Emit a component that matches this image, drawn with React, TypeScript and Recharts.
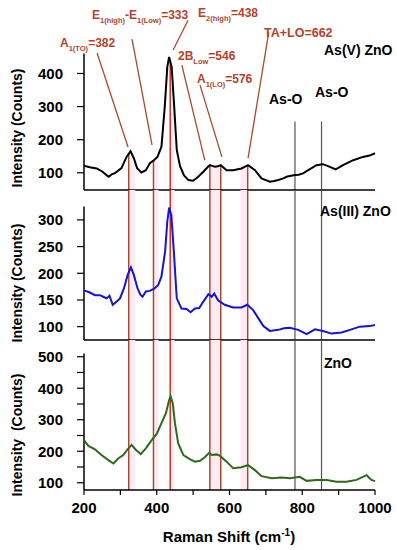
import React from 'react';
import { LineChart, Line, XAxis, YAxis, ReferenceLine, ReferenceArea } from 'recharts';

// Raman shift (cm-1) / intensity (counts)
const asVShift = [200, 216, 235, 250, 262, 268, 276, 285, 303, 317, 328, 337, 346, 358, 370, 381, 390, 402, 413, 422, 429, 434, 441, 448, 455, 464, 475, 487, 500, 514, 528, 541, 546, 553, 560, 568, 576, 592, 610, 633, 651, 670, 688, 700, 711, 723, 734, 748, 757, 766, 780, 790, 802, 820, 839, 857, 876, 892, 912, 940, 967, 985, 1000];
const asVCounts = [121, 117, 113, 104, 93, 88, 95, 99, 114, 148, 165, 144, 114, 101, 108, 129, 136, 148, 179, 299, 420, 450, 420, 299, 169, 120, 92, 78, 76, 88, 103, 118, 123, 121, 118, 120, 123, 108, 108, 113, 123, 108, 83, 78, 73, 75, 78, 83, 88, 90, 93, 94, 98, 110, 123, 126, 118, 110, 123, 138, 148, 152, 159];

const asIIIShift = [200, 216, 230, 244, 253, 262, 270, 279, 290, 299, 310, 320, 329, 337, 347, 355, 361, 370, 381, 393, 404, 413, 423, 429, 434, 440, 447, 455, 468, 482, 493, 505, 517, 528, 542, 551, 558, 569, 587, 610, 633, 649, 665, 679, 693, 711, 734, 750, 766, 789, 812, 835, 857, 880, 908, 931, 958, 985, 1000];
const asIIICounts = [168, 164, 159, 159, 156, 153, 158, 141, 147, 153, 172, 197, 211, 197, 172, 160, 156, 166, 167, 171, 178, 194, 241, 297, 323, 309, 241, 153, 134, 133, 127, 134, 135, 147, 161, 156, 162, 149, 141, 136, 136, 141, 131, 116, 101, 92, 94, 97, 98, 94, 86, 95, 92, 87, 89, 94, 100, 101, 103];

const znoShift = [200, 212, 230, 248, 267, 281, 294, 308, 322, 331, 343, 356, 370, 386, 400, 413, 425, 434, 438, 444, 450, 459, 473, 491, 505, 519, 532, 544, 551, 565, 574, 592, 610, 633, 651, 670, 688, 716, 743, 766, 793, 812, 839, 867, 894, 922, 949, 977, 990, 1000];
const znoCounts = [235, 217, 206, 188, 172, 161, 177, 188, 209, 220, 204, 191, 209, 235, 255, 289, 320, 362, 375, 352, 289, 225, 188, 175, 167, 170, 181, 195, 188, 190, 185, 167, 146, 149, 156, 140, 121, 114, 117, 114, 119, 106, 109, 109, 103, 103, 109, 124, 109, 105];

const peakLines = [323, 391, 437, 546, 576, 650];
const asOLines = [780, 853];
const bands = [[323, 341], [391, 405], [437, 449], [546, 576], [630, 650]];
const xTicks = [200, 300, 400, 500, 600, 700, 800, 900, 1000];

// label -> peak pointer lines in the top panel (shift, counts)
const pointers = [
  [[236, 462], [321, 178]],
  [[332, 504], [387, 184]],
  [[486, 561], [445, 471]],
  [[469, 425], [532, 138]],
  [[519, 365], [579, 148]],
  [[708, 525], [651, 144]],
];

const FONT = '"Liberation Sans", Arial, sans-serif';
const RED = '#a94a2b';
const LABEL = '#b3432c';
const PINK = '#fdeaf2';

const toRows = (xs: number[], ys: number[]) => xs.map((x, i) => ({ x, y: ys[i] }));

const valueAt = (xs: number[], ys: number[], x: number) => {
  for (let i = 0; i < xs.length - 1; i++) {
    if (x >= xs[i] && x <= xs[i + 1]) {
      const t = (x - xs[i]) / (xs[i + 1] - xs[i]);
      return ys[i] + t * (ys[i + 1] - ys[i]);
    }
  }
  return ys[ys.length - 1];
};

const tickStyle = { fontFamily: FONT, fontSize: 15, fontWeight: 700, fill: '#000' };

const Panel = ({ top, plotH, xAxisH, domain, yTicks, axisTop, xs, ys, color, topPanel, bottom }: any) => {
  const data = toRows(xs, ys);
  const lineStart = (x: number) => (topPanel ? valueAt(xs, ys, x) : domain[1]);
  return (
    <div style={{ position: 'absolute', left: 0, top }}>
      <LineChart width={397} height={plotH + xAxisH} data={data} margin={{ top: 0, right: 22, bottom: 0, left: 24 }}>
        <XAxis
          dataKey="x"
          type="number"
          domain={[200, 1000]}
          ticks={xTicks}
          height={xAxisH}
          axisLine={{ stroke: '#000', strokeWidth: 1.5 }}
          tickLine={{ stroke: '#000', strokeWidth: 1.2 }}
          tickSize={5}
          tickMargin={7}
          tick={bottom ? tickStyle : false}
          tickFormatter={(v: number) => (v % 200 === 0 ? String(v) : '')}
          interval={0}
        />
        <YAxis
          type="number"
          domain={domain}
          allowDataOverflow
          ticks={yTicks}
          width={60}
          axisLine={false}
          tickLine={{ stroke: '#000', strokeWidth: 1.2 }}
          tickSize={7}
          tickMargin={14}
          tick={tickStyle}
          interval={0}
          tickFormatter={(v: number) => (bottom && v % 100 !== 0 ? '' : String(v))}
        />
        {bands.map(([a, b], i) => (
          <ReferenceArea
            key={'b' + i}
            x1={a}
            x2={b}
            y1={domain[0]}
            y2={topPanel ? Math.min(lineStart(a), lineStart(b)) : domain[1]}
            fill={PINK}
            fillOpacity={1}
            stroke="none"
          />
        ))}
        <ReferenceLine
          segment={[{ x: 200, y: domain[0] }, { x: 200, y: axisTop }]}
          stroke="#000"
          strokeWidth={1.5}
        />
        {asOLines.map((x) => (
          <ReferenceLine
            key={'o' + x}
            segment={[{ x, y: topPanel ? 255 : domain[1] }, { x, y: domain[0] }]}
            stroke="#555"
            strokeWidth={1.2}
          />
        ))}
        {peakLines.map((x) => (
          <ReferenceLine
            key={'p' + x}
            segment={[{ x, y: lineStart(x) }, { x, y: domain[0] }]}
            stroke={x === 437 ? '#c8321f' : RED}
            strokeWidth={1.5}
          />
        ))}
        {topPanel &&
          pointers.map(([a, b], i) => (
            <ReferenceLine
              key={'q' + i}
              segment={[{ x: a[0], y: a[1] }, { x: b[0], y: b[1] }]}
              stroke={RED}
              strokeWidth={1.3}
            />
          ))}
        <Line
          dataKey="y"
          type="linear"
          stroke={color}
          strokeWidth={2}
          dot={false}
          isAnimationActive={false}
        />
      </LineChart>
    </div>
  );
};

const Sub = ({ main, sub, rest }: { main: string; sub: string; rest?: string }) => (
  <>
    <tspan>{main}</tspan>
    <tspan fontSize={7.5} dy={4}>{sub}</tspan>
    {rest !== undefined && <tspan dy={-4}>{rest}</tspan>}
  </>
);

export default function App() {
  const t = { fontFamily: FONT, fontWeight: 700, fontSize: 14 };
  return (
    <div style={{ position: 'absolute', left: 0, top: 0, width: 397, height: 550, background: '#fff' }}>
      <Panel top={0} plotH={190} xAxisH={10} domain={[48, 622]} yTicks={[100, 200, 300, 400]} axisTop={460}
        xs={asVShift} ys={asVCounts} color="#000" topPanel />
      <Panel top={190} plotH={150} xAxisH={10} domain={[75, 356]} yTicks={[100, 150, 200, 250, 300]} axisTop={325}
        xs={asIIIShift} ys={asIIICounts} color="#1414d6" />
      <Panel top={340} plotH={150} xAxisH={60} domain={[77, 553]}
        yTicks={[100, 150, 200, 250, 300, 350, 400, 450, 500]} axisTop={510}
        xs={znoShift} ys={znoCounts} color="#2f6a1c" bottom />
      <svg width={397} height={550} style={{ position: 'absolute', left: 0, top: 0, pointerEvents: 'none' }}>
        <g fontFamily={FONT} fontWeight={700} fontSize={12} fill={LABEL}>
          <text x={60} y={47}><Sub main="A" sub="1(TO)" rest="=382" /></text>
          <text x={92} y={19}>
            <tspan>E</tspan><tspan fontSize={7.5} dy={4}>1(high)</tspan>
            <tspan dy={-4}>-E</tspan><tspan fontSize={7.5} dy={4}>1(Low)</tspan>
            <tspan dy={-4}>=333</tspan>
          </text>
          <text x={198} y={17}><Sub main="E" sub="2(high)" rest="=438" /></text>
          <text x={178} y={60}><Sub main="2B" sub="Low" rest="=546" /></text>
          <text x={197} y={83}><Sub main="A" sub="1(LO)" rest="=576" /></text>
          <text x={264} y={37} fontSize={12.5}>TA+LO=662</text>
        </g>
        <g {...t} fill="#000">
          <text x={324} y={55}>As(V) ZnO</text>
          <text x={269} y={104}>As-O</text>
          <text x={315} y={97}>As-O</text>
          <text x={320} y={216}>As(III) ZnO</text>
          <text x={324} y={368}>ZnO</text>
          <text transform="translate(22,128) rotate(-90)" textAnchor="middle">Intensity (Counts)</text>
          <text transform="translate(22,283) rotate(-90)" textAnchor="middle">Intensity (Counts)</text>
          <text transform="translate(22,435) rotate(-90)" textAnchor="middle" style={{ whiteSpace: 'pre' }}>Intensity  (Counts)</text>
          <text x={229} y={542} textAnchor="middle" fontSize={15}>
            Raman Shift (cm<tspan fontSize={10} dy={-6}>-1</tspan><tspan dy={6}>)</tspan>
          </text>
        </g>
      </svg>
    </div>
  );
}
